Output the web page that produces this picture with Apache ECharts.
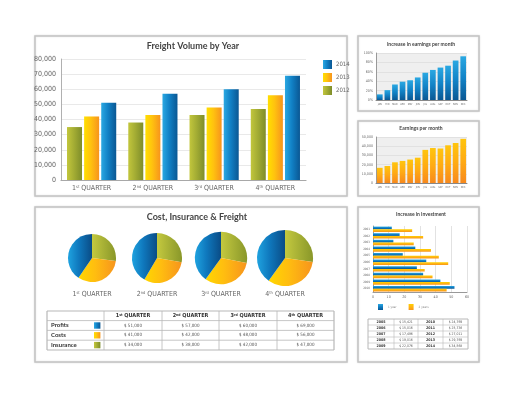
<!DOCTYPE html>
<html>
<head>
<meta charset="utf-8">
<script src="https://cdn.jsdelivr.net/npm/echarts@6/dist/echarts.min.js"></script>
<style>
html, body { margin: 0; padding: 0; background: #ffffff; }
#chart { width: 514px; height: 397px; }
</style>
</head>
<body>
<div id="chart"></div>
<script>
// freight volume by year
const quarters = ['1st QUARTER', '2nd QUARTER', '3rd QUARTER', '4th QUARTER'];
const legendYears = ['2014', '2013', '2012'];
const freight2012 = [35000, 38000, 43000, 47000];
const freight2013 = [42000, 43000, 48000, 56000];
const freight2014 = [51000, 57000, 60000, 69000];

// cost, insurance & freight (pies + table)
const cifRows = ['Profits', 'Costs', 'Insurance'];
const profits = [51000, 57000, 60000, 69000];
const costs = [41000, 42000, 48000, 56000];
const insurance = [34000, 38000, 42000, 47000];

// monthly charts
const months = ['JAN', 'FEB', 'MAR', 'APR', 'MAY', 'JUN', 'JUL', 'AUG', 'SEP', 'OCT', 'NOV', 'DEC'];
const earningsIncrease = [12, 21, 33, 39, 42, 48, 58, 64, 69, 73, 84, 93];
const earnings = [16500, 18500, 22500, 24000, 25500, 27500, 36000, 38000, 37500, 41000, 43500, 48000];

// increase in investment
const invYears = ['2001', '2002', '2003', '2004', '2005', '2006', '2007', '2008', '2009', '2010'];
const invNames = ['1 year', '2 years'];
const invBlue = [12, 17, 13, 27, 19, 34, 28, 32, 43, 52];
const invOrange = [25, 32, 26, 37, 42, 48, 33, 38, 49, 47];
const invTableYearsA = ['2005', '2006', '2007', '2008', '2009'];
const invTableValsA = ['$ 15,421', '$ 15,016', '$ 17,496', '$ 19,016', '$ 22,076'];
const invTableYearsB = ['2010', '2011', '2012', '2013', '2014'];
const invTableValsB = ['$ 24,769', '$ 25,736', '$ 27,011', '$ 29,769', '$ 34,568'];

const NARROW = "'Liberation Sans Narrow', 'DejaVu Sans Condensed', 'Liberation Sans', sans-serif";
const TITLE_FONT = "Lato, 'Open Sans', sans-serif";

const myChart = echarts.init(document.getElementById('chart'));

function hGrad(a, b, c) {
    return new echarts.graphic.LinearGradient(0, 0, 1, 0, [
        { offset: 0, color: a }, { offset: 0.45, color: b }, { offset: 1, color: c }
    ]);
}
function vGrad(a, b, c) {
    return new echarts.graphic.LinearGradient(0, 0, 0, 1, [
        { offset: 0, color: a }, { offset: 0.5, color: b }, { offset: 1, color: c }
    ]);
}

const blueH = hGrad('#2aa8e2', '#1181c6', '#0a5793');
const orangeH = hGrad('#ffdf00', '#ffc20f', '#f7941d');
const greenH = hGrad('#c2c63c', '#a4ad34', '#7e8d2a');
const blueV = vGrad('#2aa8e2', '#1283c7', '#0a5793');
const orangeV = vGrad('#ffc50d', '#ffab14', '#f7891d');

// 1st QUARTER -> 1{s|st} QUARTER
function sup(label) {
    return label.replace(/^(\d)(st|nd|rd|th)/, '$1{s|$2}');
}

// panels
const panels = [
    [35, 36, 312, 160],
    [358, 36, 121, 75],
    [358, 121, 121, 75],
    [35, 207, 312, 155],
    [358, 207, 121, 155]
];

const graphics = [];
panels.forEach(p => {
    graphics.push({
        type: 'rect', z: -10,
        shape: { x: p[0], y: p[1], width: p[2], height: p[3] },
        style: { fill: '#ffffff', stroke: '#c4c4c4', lineWidth: 1.5,
                 shadowBlur: 2, shadowColor: 'rgba(0,0,0,0.12)' }
    });
});

function addText(text, x, y, size, weight, color, align, font, rich) {
    graphics.push({
        type: 'text', z: 10, x: x, y: y,
        style: {
            text: text, fill: color || '#444', align: align || 'center', verticalAlign: 'middle',
            fontSize: size, fontWeight: weight || 'normal', fontFamily: font || TITLE_FONT,
            rich: rich
        }
    });
}
function addLine(x1, y1, x2, y2, w, c) {
    graphics.push({
        type: 'line', z: 9,
        shape: { x1: x1, y1: y1, x2: x2, y2: y2 },
        style: { stroke: c || '#b8b8b8', lineWidth: w || 0.8 }
    });
}

// titles
addText('Freight Volume by Year', 193, 46, 9, 'bold', '#444');
addText('Increase in earnings per month', 421, 44, 5, 'bold', '#444');
addText('Earnings per month', 421, 128, 5, 'bold', '#444');
addText('Cost, Insurance & Freight', 197, 217, 9, 'bold', '#444');
addText('Increase in investment', 421, 214, 5, 'bold', '#444');

// pie labels
const pieX = [92, 157, 221, 285];
const pieY = 258;
const supRich = { s: { fontSize: 4, verticalAlign: 'top', fill: '#666', fontFamily: NARROW } };
quarters.forEach((q, i) => {
    addText(sup(q), pieX[i], 294, 7, 'normal', '#666', 'center', NARROW, supRich);
});

// CIF table
const tCols = [47, 104, 162, 219, 277, 334];
const tRows = [311, 320.6, 330.4, 340.2, 350];
tRows.forEach((y, i) => addLine(tCols[0], y, tCols[5], y, (i === 0 || i === tRows.length - 1) ? 1.2 : 0.8));
tCols.forEach((x, i) => addLine(x, tRows[0], x, tRows[4], (i === 0 || i === tCols.length - 1) ? 1.2 : 0.8));
const hdrRich = { s: { fontSize: 3.5, verticalAlign: 'top', fill: '#333', fontWeight: 'bold', fontFamily: NARROW } };
quarters.forEach((q, i) => {
    addText(sup(q), (tCols[i + 1] + tCols[i + 2]) / 2, (tRows[0] + tRows[1]) / 2, 5.5, 'bold', '#333', 'center', NARROW, hdrRich);
});
const rowVals = [profits, costs, insurance];
const rowColors = [blueH, orangeH, greenH];
cifRows.forEach((name, r) => {
    const cy = (tRows[r + 1] + tRows[r + 2]) / 2;
    addText(name, 51, cy, 6, 'bold', '#333', 'left', TITLE_FONT);
    graphics.push({
        type: 'rect', z: 10,
        shape: { x: 94, y: cy - 3.2, width: 6.4, height: 6.4 },
        style: { fill: rowColors[r] }
    });
    rowVals[r].forEach((v, i) => {
        addText('$ ' + v.toLocaleString('en-US'), (tCols[i + 1] + tCols[i + 2]) / 2, cy, 4.5, 'normal', '#555', 'center', NARROW);
    });
});

// investment table
const iCols = [368, 394, 418, 443, 468];
const iRows = [319, 325, 331, 337, 343, 349];
iRows.forEach((y, i) => addLine(iCols[0], y, iCols[4], y, (i === 0 || i === iRows.length - 1) ? 1 : 0.6));
iCols.forEach((x, i) => addLine(x, iRows[0], x, iRows[5], (i === 0 || i === iCols.length - 1) ? 1 : 0.6));
invTableYearsA.forEach((y, r) => {
    const cy = (iRows[r] + iRows[r + 1]) / 2;
    addText(y, (iCols[0] + iCols[1]) / 2, cy, 3.6, 'bold', '#333', 'center', NARROW);
    addText(invTableValsA[r], (iCols[1] + iCols[2]) / 2, cy, 3.4, 'normal', '#555', 'center', NARROW);
    addText(invTableYearsB[r], (iCols[2] + iCols[3]) / 2, cy, 3.6, 'bold', '#333', 'center', NARROW);
    addText(invTableValsB[r], (iCols[3] + iCols[4]) / 2, cy, 3.4, 'normal', '#555', 'center', NARROW);
});

// pies: radius grows with the quarter's total
const totals = quarters.map((q, i) => profits[i] + costs[i] + insurance[i]);
const pieSeries = quarters.map((q, i) => ({
    type: 'pie',
    name: q,
    silent: true,
    center: [pieX[i], pieY],
    radius: 24 * Math.sqrt(totals[i] / totals[0]),
    startAngle: 90,
    label: { show: false },
    labelLine: { show: false },
    data: [
        { name: 'Insurance', value: insurance[i], itemStyle: { color: hGrad('#c4c93e', '#a9b236', '#899729') } },
        { name: 'Costs', value: costs[i], itemStyle: { color: hGrad('#ffd700', '#ffbd10', '#f7941d') } },
        { name: 'Profits', value: profits[i], itemStyle: { color: hGrad('#1fa3e0', '#0f78bd', '#0a4c86') } }
    ]
}));

const smallAxisLabel = { fontSize: 3.6, color: '#666', fontFamily: NARROW, margin: 3 };

const option = {
    animation: false,
    backgroundColor: '#ffffff',
    textStyle: { fontFamily: NARROW },
    graphic: graphics,
    legend: [
        {
            data: legendYears,
            orient: 'vertical',
            left: 318, top: 55,
            itemWidth: 9, itemHeight: 9, itemGap: 4,
            icon: 'rect',
            textStyle: { fontSize: 6, color: '#666', fontFamily: NARROW, padding: [0, 0, 0, -1] }
        },
        {
            data: invNames,
            orient: 'horizontal',
            left: 373, top: 299,
            itemWidth: 5, itemHeight: 6, itemGap: 12,
            icon: 'rect',
            textStyle: { fontSize: 3, color: '#888', fontFamily: NARROW }
        }
    ],
    grid: [
        { left: 61, top: 59, width: 245, height: 121 },
        { left: 376, top: 53, width: 91, height: 47, show: true, backgroundColor: '#efefef', borderWidth: 0 },
        { left: 376, top: 137, width: 91, height: 46, show: true, backgroundColor: '#efefef', borderWidth: 0 },
        { left: 373, top: 226, width: 94, height: 66 }
    ],
    xAxis: [
        {
            gridIndex: 0, type: 'category', data: quarters,
            axisLine: { lineStyle: { color: '#a8a8a8', width: 1.2 } },
            axisTick: { show: false },
            axisLabel: {
                interval: 0,
                fontSize: 7, color: '#666', margin: 5, fontFamily: NARROW,
                formatter: sup,
                rich: { s: { fontSize: 4, verticalAlign: 'top', color: '#666', fontFamily: NARROW } }
            }
        },
        {
            gridIndex: 1, type: 'category', data: months,
            axisLine: { lineStyle: { color: '#888' } },
            axisTick: { show: false },
            axisLabel: Object.assign({}, smallAxisLabel, { fontSize: 2.6, interval: 0, margin: 2.5 })
        },
        {
            gridIndex: 2, type: 'category', data: months,
            axisLine: { lineStyle: { color: '#888' } },
            axisTick: { show: false },
            axisLabel: Object.assign({}, smallAxisLabel, { fontSize: 2.6, interval: 0, margin: 2.5 })
        },
        {
            gridIndex: 3, type: 'value', min: 0, max: 60, interval: 10,
            axisLine: { show: true, lineStyle: { color: '#999' } },
            axisTick: { show: false },
            axisLabel: smallAxisLabel,
            splitLine: { lineStyle: { color: '#cfcfcf', width: 0.6 } }
        }
    ],
    yAxis: [
        {
            gridIndex: 0, type: 'value', min: 0, max: 80000, interval: 10000,
            axisLine: { show: true, lineStyle: { color: '#b0b0b0' } },
            axisTick: { show: false },
            axisLabel: {
                fontSize: 7, color: '#666', margin: 5, fontFamily: NARROW,
                formatter: v => v.toLocaleString('en-US')
            },
            splitLine: { lineStyle: { color: '#e3e3e3', width: 0.8 } }
        },
        {
            gridIndex: 1, type: 'value', min: 0, max: 100, interval: 20,
            axisLine: { show: true, lineStyle: { color: '#999' } },
            axisTick: { show: false },
            axisLabel: Object.assign({}, smallAxisLabel, { formatter: '{value}%' }),
            splitLine: { lineStyle: { color: '#d6d6d6', width: 0.6 } }
        },
        {
            gridIndex: 2, type: 'value', min: 0, max: 50000, interval: 10000,
            axisLine: { show: true, lineStyle: { color: '#999' } },
            axisTick: { show: false },
            axisLabel: Object.assign({}, smallAxisLabel, { formatter: v => v.toLocaleString('en-US') }),
            splitLine: { lineStyle: { color: '#d6d6d6', width: 0.6 } }
        },
        {
            gridIndex: 3, type: 'category', data: invYears, inverse: true,
            axisLine: { show: true, lineStyle: { color: '#999' } },
            axisTick: { show: false },
            axisLabel: Object.assign({}, smallAxisLabel, { fontSize: 3, interval: 0 })
        }
    ],
    series: [
        { name: '2012', type: 'bar', xAxisIndex: 0, yAxisIndex: 0, data: freight2012,
          barWidth: 15, barGap: '14%', itemStyle: { color: greenH } },
        { name: '2013', type: 'bar', xAxisIndex: 0, yAxisIndex: 0, data: freight2013,
          barWidth: 15, barGap: '14%', itemStyle: { color: orangeH } },
        { name: '2014', type: 'bar', xAxisIndex: 0, yAxisIndex: 0, data: freight2014,
          barWidth: 15, barGap: '14%', itemStyle: { color: blueH } },

        { name: 'Increase in earnings', type: 'bar', xAxisIndex: 1, yAxisIndex: 1,
          data: earningsIncrease, barCategoryGap: '25%', itemStyle: { color: blueV } },
        { name: 'Earnings', type: 'bar', xAxisIndex: 2, yAxisIndex: 2,
          data: earnings, barCategoryGap: '25%', itemStyle: { color: orangeV } },

        { name: invNames[0], type: 'bar', xAxisIndex: 3, yAxisIndex: 3, data: invBlue,
          barWidth: 2.7, barGap: '0%', itemStyle: { color: vGrad('#2aa8e2', '#0f7cc2', '#0a5793') } },
        { name: invNames[1], type: 'bar', xAxisIndex: 3, yAxisIndex: 3, data: invOrange,
          barWidth: 2.7, barGap: '0%', itemStyle: { color: vGrad('#ffd000', '#ffb311', '#f7941d') } }
    ].concat(pieSeries)
};

myChart.setOption(option);
window.addEventListener('resize', myChart.resize);
</script>
</body>
</html>
